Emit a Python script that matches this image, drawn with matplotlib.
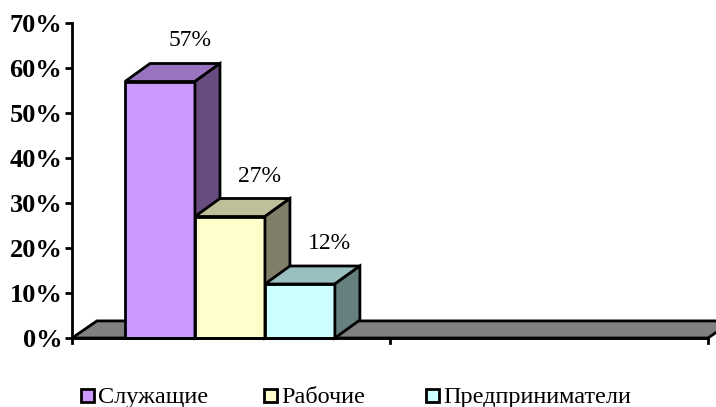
import matplotlib.pyplot as plt
from matplotlib.patches import Polygon, Rectangle

series = ['Служащие', 'Рабочие', 'Предприниматели']
values = [57, 27, 12]
front_colors = ['#CC99FF', '#FFFFCC', '#CCFFFF']
top_colors = ['#9973BF', '#BFBF99', '#99BFBF']
side_colors = ['#664C7F', '#80806A', '#668080']
yticks = [0, 10, 20, 30, 40, 50, 60, 70]
n_cats = 2

plt.rcParams['font.family'] = ['Liberation Serif', 'DejaVu Serif']

fig = plt.figure(figsize=(7.16, 4.07), dpi=100)
ax = fig.add_axes([72 / 716, 69 / 407, 636 / 716, 315 / 407])
ax.set_xlim(0, n_cats)
ax.set_ylim(0, 70)

# depth offset in data units (about 25 px right, 18 px up)
dx = 25 / 318
dy = 18 / 4.5

# floor
floor = Polygon([(0, 0), (n_cats, 0), (n_cats + dx, dy * 0.95), (dx, dy * 0.95)],
                closed=True, facecolor='#808080', edgecolor='black', lw=2,
                clip_on=False, zorder=1)
ax.add_patch(floor)

w = 0.22
x0 = 0.1667
for i, (v, fc, tc, sc) in enumerate(zip(values, front_colors, top_colors, side_colors)):
    x = x0 + i * w
    ax.add_patch(Rectangle((x, 0), w, v, facecolor=fc, edgecolor='black', lw=2,
                           zorder=2 + i, clip_on=False))
    ax.add_patch(Polygon([(x, v), (x + w, v), (x + w + dx, v + dy), (x + dx, v + dy)],
                         closed=True, facecolor=tc, edgecolor='black', lw=2,
                         zorder=2 + i, clip_on=False))
    ax.add_patch(Polygon([(x + w, 0), (x + w + dx, dy), (x + w + dx, v + dy), (x + w, v)],
                         closed=True, facecolor=sc, edgecolor='black', lw=2,
                         zorder=2 + i, clip_on=False))
    ax.text(x + w / 2 + dx + 0.015, v + dy + 5, f'{v}%', ha='center', va='center',
            fontsize=17, zorder=10)

for s in ['top', 'right', 'bottom']:
    ax.spines[s].set_visible(False)
ax.spines['left'].set_linewidth(2)
ax.plot([0, n_cats], [0, 0], color='black', lw=2, clip_on=False, zorder=8,
        solid_capstyle='butt')
for t in range(n_cats + 1):
    ax.plot([t, t], [0, -1.2], color='black', lw=2, clip_on=False, zorder=8)

ax.set_yticks(yticks)
ax.set_yticklabels([f'{t}%' for t in yticks], fontsize=19, fontweight='bold')
ax.tick_params(axis='y', length=5, width=2, pad=2)
ax.set_xticks([])

# legend
lx = [81, 264, 426]
for name, fc, px in zip(series, front_colors, lx):
    fig.patches.append(Rectangle((px / 716, (407 - 402) / 407), 13 / 716, 13 / 407,
                                 facecolor=fc, edgecolor='black', lw=2,
                                 transform=fig.transFigure))
    fig.text((px + 17) / 716, (407 - 403) / 407, name, fontsize=17.5,
             va='baseline', ha='left')

fig.savefig('out.png', dpi=100)
